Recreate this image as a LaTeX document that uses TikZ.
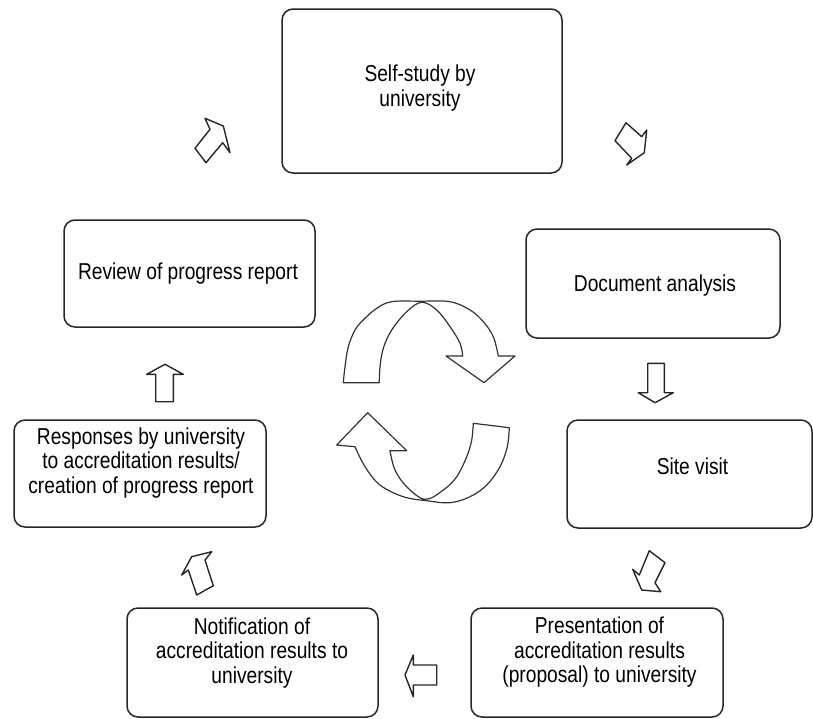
\documentclass[tikz,border=0pt]{standalone}
\usepackage{fontspec}
\setmainfont[FakeStretch=0.835]{Liberation Sans}
\begin{document}
\begin{tikzpicture}[x=1pt,y=-1pt,
  box/.style={draw=black!85, line width=1.5pt, rounded corners=11pt, inner sep=0pt},
  lbl/.style={align=center, inner sep=0pt, anchor=north,
              font=\fontsize{23}{24.5}\selectfont, text=black},
  blockarrow/.style={draw=black!85, line width=1.4pt, line join=round, fill=white},
  cyclearrow/.style={draw=black!80, line width=1.2pt, line join=round}]
\useasboundingbox (0,0) rectangle (813,718);

% process stages
\node[box, minimum width=280pt, minimum height=164pt] (self)   at (422,91)    {};
\node[box, minimum width=254pt, minimum height=109pt] (doc)    at (653,283.5) {};
\node[box, minimum width=245pt, minimum height=108pt] (site)   at (689.5,474) {};
\node[box, minimum width=252pt, minimum height=109pt] (pres)   at (597,662.5) {};
\node[box, minimum width=251pt, minimum height=109pt] (notif)  at (252.5,662.5) {};
\node[box, minimum width=252pt, minimum height=107pt] (resp)   at (140,473.5) {};
\node[box, minimum width=251pt, minimum height=107pt] (review) at (189.5,273.5) {};

% stage labels
\node[lbl] (selft)   at (420,65)    {Self-study by\\university};
\node[lbl] (doct)    at (655,275)   {Document analysis};
\node[lbl] (sitet)   at (692.5,458) {Site visit};
\node[lbl] (prest)   at (599.5,617) {Presentation of\\accreditation results\\(proposal) to university};
\node[lbl] (notift)  at (252,617.5) {Notification of\\accreditation results to\\university};
\node[lbl] (respt)   at (141,427.5) {Responses by university\\to accreditation results/\\creation of progress report};
\node[lbl] (reviewt) at (188,262.5) {Review of progress report};

% block arrows between stages
\draw[blockarrow] (223.3,126) -- (230,152.7) -- (222.7,142.7) -- (206,162.7)
  -- (195,148.3) -- (210,129.3) -- (205,118.3) -- cycle;
\draw[blockarrow] (644.3,152.7) -- (626.7,165) -- (631.7,158.3) -- (615,140.7)
  -- (626,122.7) -- (641.7,136.7) -- (646.7,130) -- cycle;
\draw[blockarrow] (655,402.7) -- (638.3,392.7) -- (647.7,392.7) -- (647.7,363.3)
  -- (664.3,363.3) -- (664.3,392.7) -- (673.3,392.7) -- cycle;
\draw[blockarrow] (641.7,590) -- (632.7,569.3) -- (639.3,575) -- (649.3,550.7)
  -- (665,562.7) -- (655,582.7) -- (660.7,591.7) -- cycle;
\draw[blockarrow] (405,675) -- (413.3,655) -- (413.3,665) -- (436.7,665)
  -- (436.7,685) -- (413.3,685) -- (413.3,696.7) -- cycle;
\draw[blockarrow] (191.7,556.7) -- (211.7,551.7) -- (205,560) -- (213.3,585.7)
  -- (196.7,595) -- (188.3,570) -- (181.7,575) -- cycle;
\draw[blockarrow] (165,364.3) -- (183.3,374.3) -- (173.3,374.3) -- (173.3,401.7)
  -- (155.7,401.7) -- (155.7,374.3) -- (146.7,374.3) -- cycle;

% circular arrows in the middle
\draw[cyclearrow]
  plot[smooth, tension=0.6] coordinates {(343.3,382.7) (345,366.7) (348.3,346.7)
    (355,330) (363.3,320) (376.7,308.3) (391.7,301.7) (420,301.2) (450,301.7)
    (470,310) (483.3,321.7) (493.3,336.7) (498.3,356)}
  -- (515,356) -- (484,382.7) -- (446,356) -- (462.7,356)
  -- plot[smooth, tension=0.6] coordinates {(462.7,356) (460,343.3) (450,326.7)
    (436.7,310) (421.7,302.3) (406.7,311.7) (391.7,330) (383.3,348.3)
    (380,366.7) (379.3,382.7)}
  -- cycle;
\draw[cyclearrow]
  plot[smooth, tension=0.6] coordinates {(509.3,427.7) (507.3,446.7) (500,466.7)
    (486.7,485) (470,496.7) (450,502.7) (426.7,500.7) (403.3,496.7) (380,485)
    (365,466.7) (355,446.7)}
  -- (336.7,445) -- (367.7,412.7) -- (406.7,450.7) -- (390,450.7)
  -- plot[smooth, tension=0.6] coordinates {(390,450.7) (395,470) (406.7,486.7)
    (425,499.3) (443.3,490) (456.7,476.7) (466.7,456.7) (471.7,440) (473.3,423.3)}
  -- cycle;
\end{tikzpicture}
\end{document}
